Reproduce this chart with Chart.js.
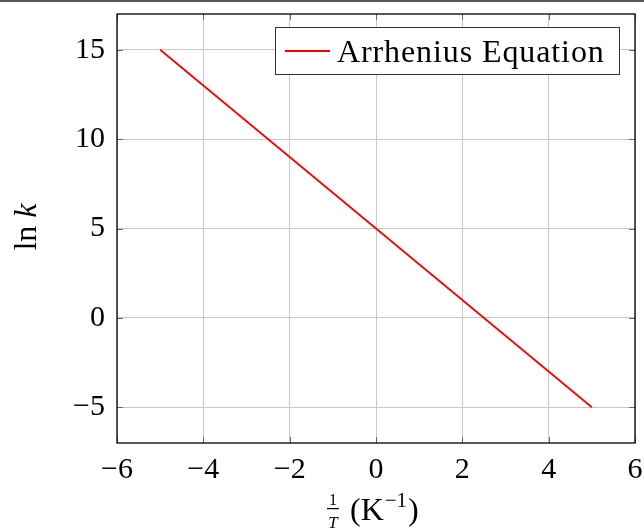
<!DOCTYPE html>
<html>
<head>
<meta charset="utf-8">
<script src="https://cdn.jsdelivr.net/npm/chart.js@4/dist/chart.umd.min.js"></script>
<style>
  html, body { margin: 0; padding: 0; background: #fff; }
  #grafica { display: block; }
</style>
</head>
<body>
<canvas id="grafica" width="644" height="529"></canvas>
<script>
// datos
const invT = [-5, -4, -3, -2, -1, 0, 1, 2, 3, 4, 5];
const lnK = [15, 13, 11, 9, 7, 5, 3, 1, -1, -3, -5];
const xTicks = [-6, -4, -2, 0, 2, 4, 6];
const yTicks = [-5, 0, 5, 10, 15];
const serieLabel = "Arrhenius Equation";

const fuente = "'Liberation Serif', 'DejaVu Serif', serif";

// marco, marcas internas, leyenda y titulos de ejes
const extras = {
    id: "extras",
    afterDraw(chart) {
        const ctx = chart.ctx;
        const a = chart.chartArea;
        const sx = chart.scales.x, sy = chart.scales.y;
        ctx.save();

        // linea gris arriba de la imagen
        ctx.fillStyle = "#555";
        ctx.fillRect(0, 0, chart.width, 2);

        // marcas de los ejes hacia dentro
        ctx.strokeStyle = "#666";
        ctx.lineWidth = 1;
        const tl = 6;
        ctx.beginPath();
        xTicks.forEach(v => {
            let px = Math.round(sx.getPixelForValue(v)) + 0.5;
            ctx.moveTo(px, a.bottom); ctx.lineTo(px, a.bottom - tl);
            ctx.moveTo(px, a.top); ctx.lineTo(px, a.top + tl);
        });
        yTicks.forEach(v => {
            let py = Math.round(sy.getPixelForValue(v)) + 0.5;
            ctx.moveTo(a.left, py); ctx.lineTo(a.left + tl, py);
            ctx.moveTo(a.right, py); ctx.lineTo(a.right - tl, py);
        });
        ctx.stroke();

        // marco
        ctx.strokeStyle = "#000";
        ctx.lineWidth = 1.3;
        ctx.strokeRect(a.left, a.top, a.right - a.left, a.bottom - a.top);

        // leyenda
        const lx = 275, ly = 27, lw = 344, lh = 47;
        ctx.fillStyle = "#fff";
        ctx.fillRect(lx, ly, lw, lh);
        ctx.strokeStyle = "#333";
        ctx.lineWidth = 1;
        ctx.strokeRect(lx + 0.5, ly + 0.5, lw, lh);
        ctx.strokeStyle = chart.data.datasets[0].borderColor;
        ctx.lineWidth = 1.8;
        ctx.beginPath();
        ctx.moveTo(285, 51); ctx.lineTo(330, 51);
        ctx.stroke();
        ctx.fillStyle = "#000";
        ctx.font = "32px " + fuente;
        ctx.letterSpacing = "0.9px";
        ctx.textBaseline = "alphabetic";
        ctx.textAlign = "left";
        ctx.fillText(chart.data.datasets[0].label, 337, 62);
        ctx.letterSpacing = "0px";

        // titulo eje y: ln k
        ctx.save();
        ctx.translate(36, 227);
        ctx.rotate(-Math.PI / 2);
        ctx.textBaseline = "alphabetic";
        ctx.font = "32px " + fuente;
        let w1 = ctx.measureText("ln ").width;
        ctx.font = "italic 32px " + fuente;
        let w2 = ctx.measureText("k").width;
        ctx.textAlign = "left";
        ctx.font = "32px " + fuente;
        ctx.fillText("ln ", -(w1 + w2) / 2, 0);
        ctx.font = "italic 32px " + fuente;
        ctx.fillText("k", -(w1 + w2) / 2 + w1, 0);
        ctx.restore();

        // titulo eje x: 1/T (K^-1)
        ctx.textBaseline = "alphabetic";
        ctx.textAlign = "center";
        ctx.font = "16px " + fuente;
        ctx.fillText("1", 333, 505);
        ctx.font = "italic 17px " + fuente;
        ctx.fillText("T", 333, 528);
        ctx.fillRect(327, 508, 12, 1.2);
        ctx.textAlign = "left";
        let px = 350;
        ctx.font = "32px " + fuente;
        ctx.fillText("(", px, 520);
        px += ctx.measureText("(").width;
        ctx.fillText("K", px, 520);
        px += ctx.measureText("K").width;
        ctx.font = "21px " + fuente;
        ctx.fillText("\u22121", px + 1, 507);
        px += ctx.measureText("\u22121").width + 2;
        ctx.font = "32px " + fuente;
        ctx.fillText(")", px, 520);

        ctx.restore();
    }
};

const etiqueta = v => (v < 0 ? "\u2212" + Math.abs(v) : "" + v);

let ctx = document.getElementById("grafica").getContext("2d");
let grafica = new Chart(ctx, {
    type: "line",
    data: {
        datasets: [{
            label: serieLabel,
            data: invT.map((x, i) => ({ x: x, y: lnK[i] })),
            borderColor: "#ff0000",
            borderWidth: 1.8,
            pointRadius: 0,
            fill: false,
            tension: 0
        }]
    },
    options: {
        responsive: false,
        animation: false,
        layout: { padding: { top: 14, right: 9, left: 0, bottom: 0 } },
        plugins: {
            legend: { display: false },
            tooltip: { enabled: false }
        },
        scales: {
            x: {
                type: "linear",
                min: -6,
                max: 6,
                afterBuildTicks: s => { s.ticks = xTicks.map(v => ({ value: v })); },
                afterFit: s => {
                    s.height = 86;
                    s.paddingLeft = 0; s.paddingRight = 0;
                },
                grid: { color: "#c8c8c8", lineWidth: 1, drawTicks: false },
                border: { display: false },
                ticks: {
                    padding: 9,
                    color: "#000",
                    font: { family: fuente, size: 30 },
                    callback: etiqueta
                }
            },
            y: {
                type: "linear",
                min: -7,
                max: 17,
                afterBuildTicks: s => { s.ticks = yTicks.map(v => ({ value: v })); },
                afterFit: s => {
                    s.width = 117;
                    s.paddingTop = 0; s.paddingBottom = 0;
                },
                grid: { color: "#c8c8c8", lineWidth: 1, drawTicks: false },
                border: { display: false },
                ticks: {
                    padding: 12,
                    color: "#000",
                    font: { family: fuente, size: 30 },
                    callback: etiqueta
                }
            }
        }
    },
    plugins: [extras]
});
</script>
</body>
</html>
